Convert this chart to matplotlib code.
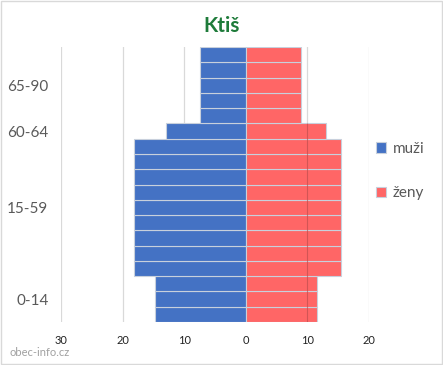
import numpy as np
import matplotlib.pyplot as plt
from matplotlib.patches import Rectangle

plt.rcParams['font.family'] = ['Lato', 'DejaVu Sans']

# skupiny a hodnoty (jeden pruh = jeden rok/podíl skupiny), zdola nahoru
groups = ['0-14', '15-59', '60-64', '65-90']
bars_per_group = [3, 9, 1, 5]
muzi = [14.8, 14.8, 14.8,
        18.2, 18.2, 18.2, 18.2, 18.2, 18.2, 18.2, 18.2, 18.2,
        12.9,
        7.4, 7.4, 7.4, 7.4, 7.4]
zeny = [11.6, 11.6, 11.6,
        15.5, 15.5, 15.5, 15.5, 15.5, 15.5, 15.5, 15.5, 15.5,
        13.0,
        9.0, 9.0, 9.0, 9.0, 9.0]
x_ticks = [-30, -20, -10, 0, 10, 20]

fig = plt.figure(figsize=(4.43, 3.65), dpi=100)
ax = fig.add_axes([61 / 443, 1 - 322 / 365, 308 / 443, 275 / 365])

y = np.arange(len(muzi))
edge = '#C8D0DC'
ax.barh(y, -np.array(muzi), height=1.0, color='#4472C4', edgecolor=edge,
        linewidth=0.8, label='muži', zorder=2)
ax.barh(y, zeny, height=1.0, color='#FF6666', edgecolor=edge,
        linewidth=0.8, label='ženy', zorder=2)

# svislá mřížka (za pruhy)
for xv in x_ticks:
    ax.axvline(xv, color='#D9D9D9', linewidth=0.9, zorder=0)

# čára na 10 prosvítá přes červené pruhy
zeny_arr = np.array(zeny)
pres = y[zeny_arr > 10]
ax.vlines(10, pres.min() - 0.5, pres.max() + 0.5, color='#C04F4F',
          linewidth=0.8, zorder=3, alpha=0.7)

ax.set_xlim(-30, 20)
ax.set_ylim(-0.5, len(muzi) - 0.5)
ax.set_xticks(x_ticks)
ax.set_xticklabels([str(abs(v)) for v in x_ticks], fontsize=8, color='#222222')

# popisky skupin uprostřed skupiny
ends = np.cumsum(bars_per_group)
centers = ends - np.array(bars_per_group) / 2 - 0.5
ax.set_yticks(centers)
ax.set_yticklabels(groups, fontsize=11, color='#595959')
ax.tick_params(axis='both', length=0)
ax.tick_params(axis='y', pad=9)
ax.tick_params(axis='x', pad=9)
for s in ax.spines.values():
    s.set_visible(False)

fig.text(0.5, 0.93, 'Ktiš', ha='center', va='center', fontsize=15,
         fontweight='bold', color='#1E7B3A')

leg = fig.legend(loc='upper left', bbox_to_anchor=(362 / 443, 1 - 128 / 365),
                 frameon=False, fontsize=11, handlelength=0.7, handleheight=0.7,
                 handletextpad=0.4, labelspacing=2.0)
for t in leg.get_texts():
    t.set_color('#595959')

fig.text(10 / 443, 1 - 352 / 365, 'obec-info.cz', fontsize=8, color='#A0A0A0',
         va='center')

fig.patches.append(Rectangle((0.002, 0.002), 0.996, 0.996, transform=fig.transFigure,
                             fill=False, edgecolor='#D9D9D9', linewidth=1))

fig.savefig('out.png', dpi=100)
